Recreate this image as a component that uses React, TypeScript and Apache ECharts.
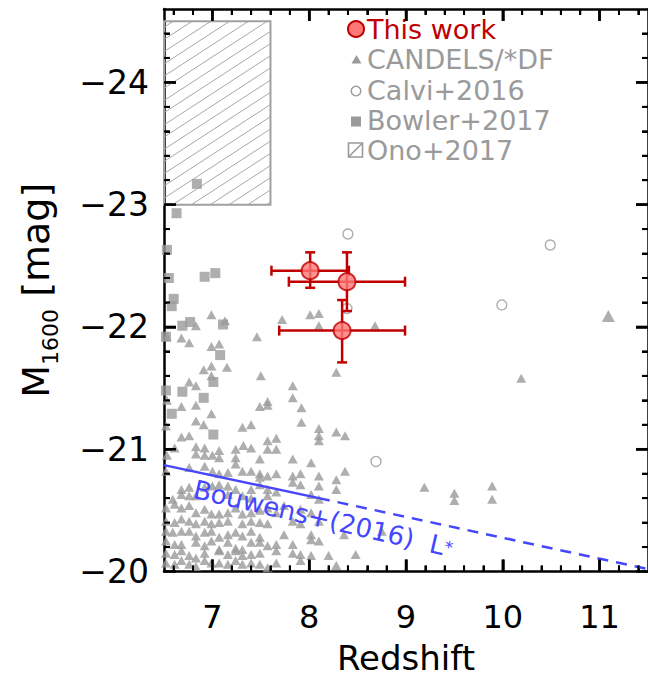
import React, { useEffect, useRef } from "react";
import * as echarts from "echarts";

const FONT = "DejaVu Sans";
const GREY = "#9a9a9a";
const RED_EDGE = "#c00000";
const RED_FILL = "#ff7878";
const BLUE = "#4646ff";

// Axis ranges and labelled ticks
const redshiftRange = [6.5, 11.5];
const magRange = [-24.6, -20];
const redshiftTicks = [7, 8, 9, 10, 11];
const magTicks = [-24, -23, -22, -21, -20];

// This work: redshift, M1600 and errors (bright side / faint side)
const thisWorkZ = [8.01, 8.39, 8.34];
const thisWorkM = [-22.46, -22.37, -21.97];
const thisWorkZErr = [0.4, 0.6, 0.65];
const thisWorkMErrBright = [0.15, 0.24, 0.25];
const thisWorkMErrFaint = [0.14, 0.24, 0.26];

// CANDELS / *DF galaxies [z, M1600]
const candels: number[][] = [
  [6.99, -22.1], [7.13, -22.05], [6.83, -22.01], [7.72, -22.06], [8.01, -22.1], [8.1, -22.11], [8.1, -22.01],
  [6.53, -21.92], [6.68, -21.91], [6.76, -21.87], [6.99, -21.84], [7.07, -21.86], [7.46, -21.92],
  [6.91, -21.65], [6.99, -21.68], [7.15, -21.67], [6.99, -21.6], [7.5, -21.6],
  [6.76, -21.55], [6.83, -21.52], [7.83, -21.52],
  [6.53, -21.4], [6.68, -21.35], [6.83, -21.36], [7.49, -21.35], [7.57, -21.39], [7.57, -21.36], [7.83, -21.42], [7.92, -21.34],
  [6.99, -21.29], [6.83, -21.23], [6.91, -21.2], [7.92, -21.22], [6.52, -21.19], [7.4, -21.2], [7.31, -21.18], [8.1, -21.17],
  [6.68, -21.1], [6.76, -21.11], [7.57, -21.07], [7.66, -21.09], [8.1, -21.11], [8.1, -21.07], [6.53, -20.95],
  [6.61, -21.01], [6.83, -21.02], [6.92, -21.01], [7.0, -20.95], [7.07, -20.99], [7.24, -21.0], [7.32, -21.03], [7.4, -21.01], [7.57, -21.0], [7.66, -21.0],
  [6.83, -20.96], [6.92, -20.95], [7.07, -20.93], [7.24, -20.93], [7.24, -20.88], [7.49, -20.92], [7.83, -20.92], [8.02, -20.89],
  [6.52, -20.82], [6.76, -20.85], [6.92, -20.86], [7.0, -20.82], [7.07, -20.8], [7.16, -20.81], [7.31, -20.82], [7.4, -20.82],
  [7.49, -20.8], [7.49, -20.77], [7.57, -20.78], [7.66, -20.8], [7.83, -20.78], [7.91, -20.8], [8.1, -20.78],
  [6.68, -20.67], [6.76, -20.69], [6.92, -20.69], [7.0, -20.7], [7.07, -20.71], [7.16, -20.7], [7.24, -20.67], [7.4, -20.67],
  [7.49, -20.71], [7.57, -20.67], [7.83, -20.73], [7.91, -20.71], [8.1, -20.7],
  [6.59, -20.59], [6.68, -20.63], [6.76, -20.62], [6.83, -20.62], [7.16, -20.63], [7.31, -20.62], [7.4, -20.6], [7.57, -20.62],
  [7.66, -20.65], [8.02, -20.63], [8.1, -20.59],
  [6.52, -20.52], [6.61, -20.55], [6.68, -20.52], [6.76, -20.54], [6.83, -20.48], [6.92, -20.51], [6.99, -20.47], [7.07, -20.47],
  [7.16, -20.48], [7.24, -20.52], [7.31, -20.47], [7.4, -20.48], [7.49, -20.5], [7.57, -20.52], [7.66, -20.48], [7.74, -20.54],
  [7.91, -20.51], [8.02, -20.48],
  [6.52, -20.41], [6.61, -20.4], [6.68, -20.43], [6.76, -20.41], [6.83, -20.39], [6.92, -20.41], [6.99, -20.39], [7.07, -20.4],
  [7.16, -20.41], [7.31, -20.39], [7.4, -20.41], [7.49, -20.4], [7.57, -20.39], [7.83, -20.41], [7.91, -20.39], [8.1, -20.41],
  [6.52, -20.33], [6.59, -20.32], [6.68, -20.33], [6.76, -20.33], [6.83, -20.29], [6.92, -20.32], [6.99, -20.33], [7.07, -20.28],
  [7.16, -20.3], [7.24, -20.32], [7.31, -20.29], [7.4, -20.33], [7.49, -20.28], [7.74, -20.3], [8.02, -20.3],
  [6.52, -20.25], [6.61, -20.22], [6.68, -20.22], [6.83, -20.24], [6.92, -20.21], [6.99, -20.25], [7.07, -20.18], [7.16, -20.24],
  [7.24, -20.19], [7.31, -20.18], [7.4, -20.24], [7.49, -20.24], [7.57, -20.21], [7.66, -20.22], [7.83, -20.22], [8.02, -20.26], [8.1, -20.25],
  [6.52, -20.15], [6.61, -20.14], [6.68, -20.17], [6.76, -20.13], [6.83, -20.11], [6.92, -20.15], [7.07, -20.17], [7.16, -20.14],
  [7.24, -20.17], [7.31, -20.13], [7.4, -20.14], [7.49, -20.15], [7.66, -20.17], [7.83, -20.15], [7.91, -20.14], [8.02, -20.13],
  [6.52, -20.07], [6.61, -20.06], [6.68, -20.09], [6.76, -20.06], [6.83, -20.04], [6.92, -20.09], [6.99, -20.07], [7.07, -20.07],
  [7.16, -20.06], [7.24, -20.09], [7.31, -20.06], [7.4, -20.07], [7.49, -20.06], [7.57, -20.03], [7.66, -20.07], [7.91, -20.09],
  [8.68, -22.01], [8.28, -21.63], [8.28, -21.14], [8.37, -21.11], [8.37, -20.82], [8.28, -20.75], [8.28, -20.67],
  [9.19, -20.69], [9.5, -20.64], [9.5, -20.58], [9.89, -20.7], [9.89, -20.59], [10.19, -21.58],
  [8.36, -20.3], [8.75, -20.33], [8.2, -20.13], [8.48, -20.14], [8.28, -20.05],
];
const candelsBright: number[][] = [[11.09, -22.09]];

// Calvi+2016 [z, M1600]
const calvi2016: number[][] = [
  [8.4, -22.76], [8.39, -22.15], [8.69, -20.9], [9.99, -22.18], [10.49, -22.67],
];

// Bowler+2017 [z, M1600]
const bowler2017: number[][] = [
  [6.84, -23.17], [6.63, -22.93], [6.53, -22.63], [6.55, -22.4], [6.92, -22.41], [7.03, -22.44],
  [6.6, -22.23], [6.58, -22.17], [6.69, -22.01], [6.77, -22.04], [7.11, -22.02], [6.52, -21.92],
  [7.08, -21.77], [7.01, -21.55], [6.69, -21.47], [6.91, -21.42], [6.52, -21.48], [6.58, -21.29], [7.01, -21.12],
];

// Ono+2017 region: [zMin, zMax, M faint edge, M bright edge]
const ono2017 = [[6.5, 7.6, -23.0, -24.5]];

// Bouwens+(2016) L* track: measured part and extrapolation
const bouwensMeasured: number[][] = [[6.5, -20.87], [8.1, -20.6]];
const bouwensExtrapolated: number[][] = [[8.1, -20.6], [11.5, -20.02]];

// Plot frame geometry
const GRID_LEFT = 164;
const GRID_TOP = 9;
const GRID_WIDTH = 484;
const GRID_HEIGHT = 562.5;
const MAJOR_TICK = 12;
const MINOR_TICK = 6;

// Tick positions every 0.2 on both axes (the frame's minor tick spacing)
const redshiftTickSteps: string[] = [];
for (let k = 65; k <= 115; k++) redshiftTickSteps.push((k / 10).toFixed(1));
const magTickSteps: string[] = [];
for (let k = -123; k <= -100; k++) magTickSteps.push((k / 5).toFixed(1));

const isWhole = (s: string) => Math.abs(parseFloat(s) - Math.round(parseFloat(s))) < 1e-6;
const isFifth = (s: string) => Math.abs(parseFloat(s) * 5 - Math.round(parseFloat(s) * 5)) < 1e-6;

const axisLineStyle = { color: "#000", width: 2.5 };

function xFrame(position: string) {
  return {
    type: "value",
    min: redshiftRange[0],
    max: redshiftRange[1],
    position,
    axisLine: { show: true, onZero: false, lineStyle: axisLineStyle },
    axisTick: { show: false },
    axisLabel: { show: false },
    splitLine: { show: false },
  };
}

function yFrame(position: string) {
  return {
    type: "value",
    min: magRange[0],
    max: magRange[1],
    inverse: true,
    position,
    axisLine: { show: true, onZero: false, lineStyle: axisLineStyle },
    axisTick: { show: false },
    axisLabel: { show: false },
    splitLine: { show: false },
  };
}

// Tick-only category axes laid over the frame
function xTickAxis(position: string, major: boolean) {
  return {
    type: "category",
    data: redshiftTickSteps,
    boundaryGap: false,
    position,
    axisLine: { show: false },
    axisLabel: { show: false },
    splitLine: { show: false },
    axisTick: {
      show: true,
      inside: true,
      length: major ? MAJOR_TICK : MINOR_TICK,
      interval: (i: number, v: string) => (major ? isWhole(v) : isFifth(v) && !isWhole(v) && i > 0 && i < redshiftTickSteps.length - 1),
      lineStyle: { color: "#000", width: major ? 2.5 : 2 },
    },
  };
}

function yTickAxis(position: string, major: boolean) {
  return {
    type: "category",
    data: magTickSteps,
    boundaryGap: false,
    inverse: true,
    position,
    axisLine: { show: false },
    axisLabel: { show: false },
    splitLine: { show: false },
    axisTick: {
      show: true,
      inside: true,
      length: major ? MAJOR_TICK : MINOR_TICK,
      interval: (i: number, v: string) => (major ? isWhole(v) : !isWhole(v) && i > 0 && i < magTickSteps.length - 1),
      lineStyle: { color: "#000", width: major ? 2.5 : 2 },
    },
  };
}

function hatchedBox(params: any, api: any) {
  const a = api.coord([api.value(0), api.value(3)]);
  const b = api.coord([api.value(1), api.value(2)]);
  const x1 = Math.min(a[0], b[0]);
  const x2 = Math.max(a[0], b[0]);
  const y1 = Math.min(a[1], b[1]);
  const y2 = Math.max(a[1], b[1]);
  const k = 0.65;
  const gap = 12.2;
  const children: any[] = [];
  for (let c = y1 + k * x1 + gap / 2; c < y2 + k * x2; c += gap) {
    const xa = Math.max(x1, (c - y2) / k);
    const xb = Math.min(x2, (c - y1) / k);
    if (xb > xa) {
      children.push({
        type: "line",
        shape: { x1: xa, y1: c - k * xa, x2: xb, y2: c - k * xb },
        style: { stroke: "#a8a8a8", lineWidth: 1 },
      });
    }
  }
  children.push({
    type: "rect",
    shape: { x: x1, y: y1, width: x2 - x1, height: y2 - y1 },
    style: { fill: "none", stroke: "#a0a0a0", lineWidth: 2 },
  });
  return { type: "group", children };
}

function errorBars(params: any, api: any) {
  const z = api.value(0);
  const m = api.value(1);
  const dz = api.value(2);
  const up = api.value(3);
  const down = api.value(4);
  const l = api.coord([z - dz, m]);
  const r = api.coord([z + dz, m]);
  const t = api.coord([z, m - up]);
  const b = api.coord([z, m + down]);
  const cap = 5;
  const style = { stroke: RED_EDGE, lineWidth: 2.5 };
  const seg = (x1: number, y1: number, x2: number, y2: number) => ({ type: "line", shape: { x1, y1, x2, y2 }, style });
  return {
    type: "group",
    children: [
      seg(l[0], l[1], r[0], r[1]),
      seg(t[0], t[1], b[0], b[1]),
      seg(l[0], l[1] - cap, l[0], l[1] + cap),
      seg(r[0], r[1] - cap, r[0], r[1] + cap),
      seg(t[0] - cap, t[1], t[0] + cap, t[1]),
      seg(b[0] - cap, b[1], b[0] + cap, b[1]),
    ],
  };
}

// Frame ticks as small filled bars along the four edges of the plot frame
function frameTicks(): any[] {
  const sx = (v: number) => GRID_LEFT + ((v - redshiftRange[0]) / (redshiftRange[1] - redshiftRange[0])) * GRID_WIDTH;
  const sy = (v: number) => GRID_TOP + ((v - magRange[0]) / (magRange[1] - magRange[0])) * GRID_HEIGHT;
  const bottom = GRID_TOP + GRID_HEIGHT;
  const right = GRID_LEFT + GRID_WIDTH;
  const out: any[] = [];
  redshiftTickSteps.forEach((s, i) => {
    if (i === 0 || i === redshiftTickSteps.length - 1 || !isFifth(s)) return;
    const major = isWhole(s);
    const len = major ? MAJOR_TICK : MINOR_TICK;
    const w = major ? 2.5 : 2;
    const x = sx(parseFloat(s));
    out.push(
      { type: "rect", z: 100, shape: { x: x - w / 2, y: bottom - len, width: w, height: len }, style: { fill: "#000" } },
      { type: "rect", z: 100, shape: { x: x - w / 2, y: GRID_TOP, width: w, height: len }, style: { fill: "#000" } }
    );
  });
  magTickSteps.forEach((s, i) => {
    if (i === 0 || i === magTickSteps.length - 1) return;
    const major = isWhole(s);
    const len = major ? MAJOR_TICK : MINOR_TICK;
    const w = major ? 2.5 : 2;
    const y = sy(parseFloat(s));
    out.push(
      { type: "rect", z: 100, shape: { x: GRID_LEFT, y: y - w / 2, width: len, height: w }, style: { fill: "#000" } },
      { type: "rect", z: 100, shape: { x: right - len, y: y - w / 2, width: len, height: w }, style: { fill: "#000" } }
    );
  });
  return out;
}

const legendRows = [
  { label: "This work", color: RED_EDGE, y: 29 },
  { label: "CANDELS/*DF", color: GREY, y: 59 },
  { label: "Calvi+2016", color: GREY, y: 90 },
  { label: "Bowler+2017", color: GREY, y: 120 },
  { label: "Ono+2017", color: GREY, y: 150 },
];

function legendAndLabel(): any[] {
  const out: any[] = [];
  legendRows.forEach((row) => {
    out.push({
      type: "text",
      x: 367,
      y: row.y,
      z: 50,
      style: { text: row.label, fill: row.color, font: `27px '${FONT}'`, textAlign: "left", textVerticalAlign: "middle" },
    });
  });
  out.push(
    { type: "circle", z: 50, shape: { cx: 356, cy: 29, r: 8 }, style: { fill: RED_FILL, stroke: RED_EDGE, lineWidth: 2 } },
    { type: "polygon", z: 50, shape: { points: [[351.5, 63.5], [361.5, 63.5], [356.5, 55]] }, style: { fill: GREY } },
    { type: "circle", z: 50, shape: { cx: 356, cy: 91, r: 4.8 }, style: { fill: "none", stroke: GREY, lineWidth: 1.4 } },
    { type: "rect", z: 50, shape: { x: 351, y: 116.5, width: 10, height: 10 }, style: { fill: GREY } },
    { type: "rect", z: 50, shape: { x: 348.5, y: 143, width: 14, height: 14 }, style: { fill: "none", stroke: GREY, lineWidth: 1.6 } },
    { type: "line", z: 50, shape: { x1: 348.5, y1: 157, x2: 362.5, y2: 143 }, style: { stroke: GREY, lineWidth: 1.6 } },
    {
      type: "text",
      x: 194,
      y: 489,
      z: 50,
      rotation: -0.226,
      style: {
        text: "{t|Bouwens+(2016)  L}{s|*}",
        textAlign: "left",
        textVerticalAlign: "middle",
        rich: {
          t: { fontFamily: FONT, fontSize: 26, fill: BLUE, color: BLUE },
          s: { fontFamily: FONT, fontSize: 17, fill: BLUE, color: BLUE, verticalAlign: "middle" },
        },
      },
    }
  );
  return out;
}

export default function App() {
  const ref = useRef<HTMLDivElement>(null);

  useEffect(() => {
    if (!ref.current) return;
    const chart = echarts.init(ref.current, undefined, { renderer: "svg" });
    const textBase = { fontFamily: FONT, color: "#000" };

    const option: any = {
      animation: false,
      backgroundColor: "#fff",
      grid: { left: GRID_LEFT, top: GRID_TOP, width: GRID_WIDTH, height: GRID_HEIGHT, containLabel: false, outerBoundsMode: "none" },
      xAxis: [
        {
          ...xFrame("bottom"),
          name: "Redshift",
          nameLocation: "middle",
          nameGap: 69,
          nameTextStyle: { ...textBase, fontSize: 34 },
          axisLabel: { show: true, customValues: redshiftTicks, margin: 29, ...textBase, fontSize: 32 },
        },
        xFrame("top"),
        xTickAxis("bottom", true),
        xTickAxis("bottom", false),
        xTickAxis("top", true),
        xTickAxis("top", false),
      ],
      yAxis: [
        {
          ...yFrame("left"),
          name: "{m|M}{s|1600} {m|[mag]}",
          nameLocation: "middle",
          nameGap: 103,
          nameTextStyle: {
            ...textBase,
            fontSize: 38,
            rich: {
              m: { fontFamily: FONT, fontSize: 38, color: "#000", verticalAlign: "bottom", padding: [0, 0, 6, 0] },
              s: { fontFamily: FONT, fontSize: 22, color: "#000", verticalAlign: "bottom" },
            },
          },
          axisLabel: {
            show: true,
            customValues: magTicks,
            margin: 15,
            ...textBase,
            fontSize: 33,
            formatter: (v: number) => "\u2212" + Math.abs(Math.round(v)),
          },
        },
        yFrame("right"),
        yTickAxis("left", true),
        yTickAxis("left", false),
        yTickAxis("right", true),
        yTickAxis("right", false),
      ],
      graphic: [...frameTicks(), ...legendAndLabel()],
      series: [
        {
          name: "Ono+2017",
          type: "custom",
          renderItem: hatchedBox,
          data: ono2017,
          encode: { x: [0, 1], y: [2, 3] },
          silent: true,
          z: 1,
        },
        {
          name: "Calvi+2016",
          type: "scatter",
          data: calvi2016,
          symbol: "circle",
          symbolSize: 10,
          itemStyle: { color: "rgba(0,0,0,0)", borderColor: GREY, borderWidth: 1.4 },
          silent: true,
          z: 2,
        },
        {
          name: "Bowler+2017",
          type: "scatter",
          data: bowler2017,
          symbol: "rect",
          symbolSize: 10,
          itemStyle: { color: GREY },
          silent: true,
          z: 2,
        },
        {
          name: "CANDELS/*DF",
          type: "scatter",
          data: candels,
          symbol: "triangle",
          symbolSize: [10, 9],
          itemStyle: { color: GREY },
          silent: true,
          z: 2,
        },
        {
          name: "CANDELS/*DF bright",
          type: "scatter",
          data: candelsBright,
          symbol: "triangle",
          symbolSize: [13, 12],
          itemStyle: { color: GREY },
          silent: true,
          z: 2,
        },
        {
          name: "Bouwens measured",
          type: "line",
          data: bouwensMeasured,
          symbol: "none",
          lineStyle: { color: BLUE, width: 2.5 },
          silent: true,
          z: 3,
        },
        {
          name: "Bouwens extrapolated",
          type: "line",
          data: bouwensExtrapolated,
          symbol: "none",
          lineStyle: { color: BLUE, width: 2.5, type: [11, 8] },
          silent: true,
          z: 3,
        },
        {
          name: "This work errors",
          type: "custom",
          renderItem: errorBars,
          data: thisWorkZ.map((z, i) => [z, thisWorkM[i], thisWorkZErr[i], thisWorkMErrBright[i], thisWorkMErrFaint[i]]),
          encode: { x: 0, y: 1 },
          silent: true,
          z: 4,
        },
        {
          name: "This work",
          type: "scatter",
          data: thisWorkZ.map((z, i) => [z, thisWorkM[i]]),
          symbol: "circle",
          symbolSize: 17,
          itemStyle: { color: RED_FILL, borderColor: RED_EDGE, borderWidth: 2 },
          silent: true,
          z: 5,
        },
      ],
    };

    chart.setOption(option);
    return () => chart.dispose();
  }, []);

  return (
    <div
      ref={ref}
      style={{ position: "fixed", left: 0, top: 0, width: 648, height: 681, background: "#fff" }}
    />
  );
}
